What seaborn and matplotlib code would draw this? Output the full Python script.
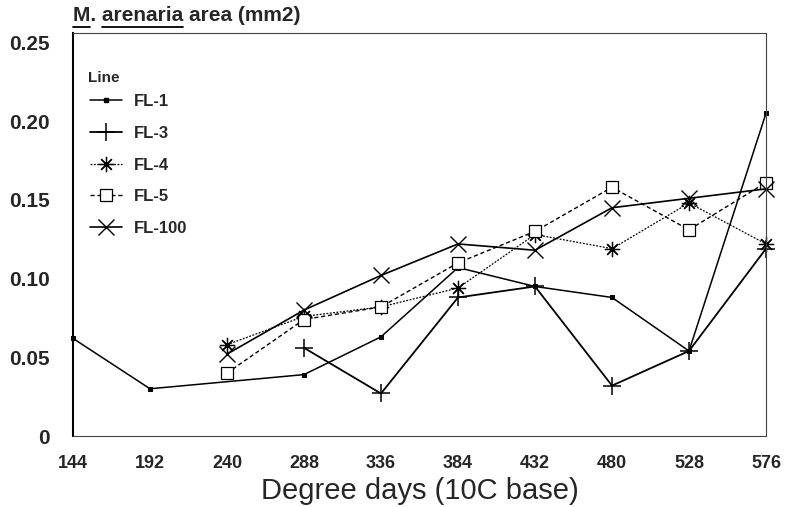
import matplotlib
matplotlib.use("Agg")
import matplotlib.pyplot as plt
import seaborn as sns
from matplotlib.lines import Line2D

# Valores
fl1_x = [144, 192, 288, 336, 384, 432, 480, 528, 576]
fl1_y = [0.062, 0.030, 0.039, 0.063, 0.107, 0.095, 0.088, 0.054, 0.205]
fl3_x = [288, 336, 384, 432, 480, 528, 576]
fl3_y = [0.056, 0.027, 0.088, 0.095, 0.032, 0.054, 0.119]
fl4_x = [240, 288, 336, 384, 432, 480, 528, 576]
fl4_y = [0.058, 0.076, 0.082, 0.094, 0.128, 0.119, 0.148, 0.122]
fl5_x = [240, 288, 336, 384, 432, 480, 528, 576]
fl5_y = [0.040, 0.074, 0.082, 0.110, 0.130, 0.158, 0.131, 0.161]
fl100_x = [240, 288, 336, 384, 432, 480, 528, 576]
fl100_y = [0.052, 0.080, 0.102, 0.122, 0.118, 0.145, 0.151, 0.157]

x_ticks = [144, 192, 240, 288, 336, 384, 432, 480, 528, 576]
y_ticks = [0, 0.05, 0.10, 0.15, 0.20, 0.25]
y_tick_labels = ["0", "0.05", "0.10", "0.15", "0.20", "0.25"]

sns.set_style("white")
plt.rcParams['font.family'] = ['Liberation Sans', 'DejaVu Sans']

fig = plt.figure(figsize=(7.86, 5.07), dpi=100)
ax = fig.add_axes([73 / 786, 1 - 436 / 507, 693 / 786, 403 / 507])

# Estilos de cada linha
series = [
    ("FL-1", fl1_x, fl1_y, dict(marker="s", markersize=3, linestyle="-", linewidth=1.1)),
    ("FL-3", fl3_x, fl3_y, dict(marker="+", markersize=13, markeredgewidth=1.1, linestyle="-", linewidth=1.3)),
    ("FL-4", fl4_x, fl4_y, dict(marker=(8, 2, 0), markersize=11, markeredgewidth=0.9, linestyle=(0, (1.5, 1.2)), linewidth=0.9)),
    ("FL-5", fl5_x, fl5_y, dict(marker="s", markersize=8.5, markerfacecolor="white", markeredgewidth=0.9, linestyle=(0, (3, 2)), linewidth=1.0)),
    ("FL-100", fl100_x, fl100_y, dict(marker="x", markersize=11, markeredgewidth=1.0, linestyle="-", linewidth=1.2)),
]

handles = []
for name, xs, ys, st in series:
    sns.lineplot(x=xs, y=ys, ax=ax, color="black", markeredgecolor="black", **st)
    handles.append(Line2D([], [], color="black", markeredgecolor="black", label=name, **st))

# garante os marcadores (seaborn pode sobrescrever)
for line, (name, xs, ys, st) in zip(ax.lines, series):
    line.set(markeredgecolor="black", **{k: v for k, v in st.items() if k.startswith("marker")})
    line.set_clip_on(False)

ax.set_xlim(144, 576)
ax.set_ylim(0, 0.256)
ax.set_xticks(x_ticks)
ax.set_xticklabels([str(v) for v in x_ticks], fontsize=13, fontweight="bold")
ax.set_yticks(y_ticks)
ax.set_yticklabels(y_tick_labels, fontsize=15, fontweight="bold")
ax.tick_params(axis="both", direction="out", length=4, width=0.8, color="black")
ax.tick_params(axis="x", pad=10)
ax.tick_params(axis="y", pad=13)

for side in ["top", "right", "bottom"]:
    ax.spines[side].set_color("#444444")
    ax.spines[side].set_linewidth(0.8)
ax.spines["left"].set_color("black")
ax.spines["left"].set_linewidth(1.5)

ax.set_xlabel("Degree days (10C base)", fontsize=21, labelpad=3)

# Legenda (título "Line" escrito à parte)
leg = ax.legend(handles=handles, loc="upper left",
                bbox_to_anchor=(0.025, 0.848), frameon=False, borderaxespad=0,
                borderpad=0, fontsize=12, labelspacing=1.0, handlelength=1.9,
                handletextpad=0.7)
for t in leg.get_texts():
    t.set_fontweight("bold")
fig.text(88 / 786, 1 - 78 / 507, "Line", fontsize=11, fontweight="bold",
         ha="left", va="center")

# Título com sublinhado em "M" e "arenaria"
title = "M. arenaria area (mm2)"
tx, ty = 73 / 786, 1 - 21 / 507
fig.text(tx, ty, title, fontsize=15, fontweight="bold", ha="left", va="baseline")
renderer = fig.canvas.get_renderer()

def text_width(s):
    tmp = fig.text(0, 0, s, fontsize=15, fontweight="bold")
    w = tmp.get_window_extent(renderer).width
    tmp.remove()
    return w

x0 = 73
uy = 1 - 27 / 507
for start, word in [("", "M"), ("M. ", "arenaria")]:
    a = x0 + (text_width(start) if start else 0)
    b = x0 + text_width(start + word)
    fig.add_artist(Line2D([a / 786, b / 786], [uy, uy], color="black", linewidth=1.3,
                          transform=fig.transFigure))

fig.savefig("out.png", dpi=100)
